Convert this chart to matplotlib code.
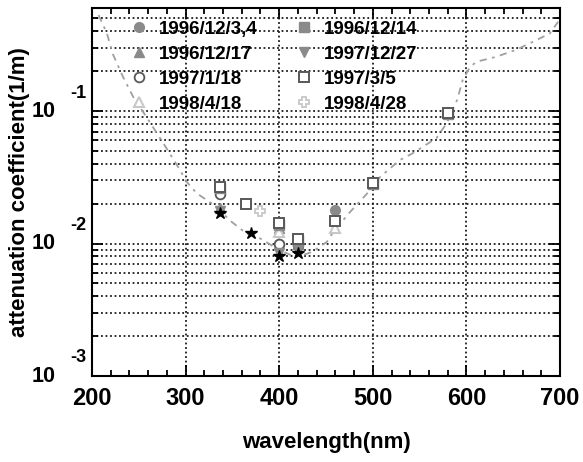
import numpy as np
import matplotlib
matplotlib.use("Agg")
import matplotlib.pyplot as plt
from matplotlib.ticker import FixedLocator, LogLocator, NullFormatter, MultipleLocator

plt.rcParams["font.family"] = ["Liberation Sans", "DejaVu Sans"]
plt.rcParams["font.weight"] = "bold"

# model curve (dash-dot)
curve_wl = [207, 216, 222, 233, 244, 258, 276, 294, 301, 312, 333, 347, 365, 380,
            397, 412, 422, 436, 451, 458, 476, 494, 508, 529, 543, 568, 579, 590,
            596, 604, 611, 632, 654, 675, 689, 698]
curve_att = [0.531, 0.385, 0.272, 0.182, 0.128, 0.0906, 0.0575, 0.0359, 0.0293,
             0.0239, 0.0190, 0.0150, 0.0119, 0.0109, 0.0092, 0.0082, 0.0080,
             0.0087, 0.0103, 0.0123, 0.0174, 0.0239, 0.0319, 0.0427, 0.0482,
             0.0625, 0.0811, 0.121, 0.171, 0.216, 0.236, 0.257, 0.292, 0.344,
             0.385, 0.472]

# measured points per date
wl_961203 = [337, 400, 420, 460]
att_961203 = [0.024, 0.0099, 0.0102, 0.0179]
wl_961214 = [337, 400, 420, 500, 580]
att_961214 = [0.0262, 0.0138, 0.0106, 0.0282, 0.095]
wl_961217 = [337, 400, 420]
att_961217 = [0.0185, 0.0130, 0.0099]
wl_971227 = [337, 400, 420, 500]
att_971227 = [0.0176, 0.0085, 0.0090, 0.0280]
wl_970118 = [337, 400, 420]
att_970118 = [0.0236, 0.0100, 0.0098]
wl_970305 = [337, 365, 400, 420, 460, 500, 580]
att_970305 = [0.0268, 0.0198, 0.0143, 0.0108, 0.01485, 0.0284, 0.096]
wl_980418 = [400, 460]
att_980418 = [0.0123, 0.0130]
wl_980428 = [380]
att_980428 = [0.0177]
wl_star = [337, 370, 400, 420]
att_star = [0.0169, 0.0121, 0.00805, 0.00843]

ytick_vals = [1e-3, 1e-2, 1e-1]
ytick_exps = ["-3", "-2", "-1"]

FILL = "#8a8a8a"
DARK = "#585858"
PALE = "#c8c8c8"

fig = plt.figure(figsize=(5.83, 4.62), dpi=100)
ax = fig.add_axes([92 / 583, 1 - 376 / 462, 468 / 583, 368 / 462])

ax.plot(curve_wl, curve_att, color="#a0a0a0", lw=1.3,
        dashes=(4, 3, 1.5, 3), zorder=2)

ms = 7
series = [
    (wl_961203, att_961203, "1996/12/3,4", dict(marker="o", mfc=FILL, mec=FILL)),
    (wl_961217, att_961217, "1996/12/17", dict(marker="^", mfc=FILL, mec=FILL)),
    (wl_970118, att_970118, "1997/1/18", dict(marker="o", mfc="white", mec=DARK, mew=1.3)),
    (wl_980418, att_980418, "1998/4/18", dict(marker="^", mfc="white", mec=PALE, mew=1.5)),
    (wl_961214, att_961214, "1996/12/14", dict(marker="s", mfc=FILL, mec=FILL)),
    (wl_971227, att_971227, "1997/12/27", dict(marker="v", mfc=FILL, mec=FILL)),
    (wl_970305, att_970305, "1997/3/5", dict(marker="s", mfc="white", mec=DARK, mew=1.4)),
    (wl_980428, att_980428, "1998/4/28", dict(marker="P", mfc="white", mec=PALE, mew=1.3)),
]
for wl, att, lab, st in series:
    ax.plot(wl, att, ls="none", ms=ms, label=lab, zorder=4, **st)

ax.plot(wl_star, att_star, ls="none", marker="*", ms=9, color="black", zorder=5)

ax.set_yscale("log")
ax.set_xlim(200, 700)
ax.set_ylim(1e-3, 0.6)

ax.xaxis.set_major_locator(MultipleLocator(100))
ax.xaxis.set_minor_locator(MultipleLocator(20))
ax.yaxis.set_major_locator(FixedLocator(ytick_vals))
ax.yaxis.set_minor_locator(LogLocator(base=10, subs=np.arange(2, 10)))
ax.yaxis.set_minor_formatter(NullFormatter())
ax.set_yticklabels([])

ax.tick_params(which="both", direction="in", top=True, right=True, width=1.3)
ax.tick_params(which="major", length=8)
ax.tick_params(which="minor", length=4)
ax.tick_params(axis="x", which="major", labelsize=17, pad=8)
for lbl in ax.get_xticklabels():
    lbl.set_fontweight("bold")

gkw = dict(color="#1a1a1a", lw=1.3, dashes=(1, 1.5))
ax.grid(True, which="major", axis="x", **gkw)
ax.grid(True, which="both", axis="y", **gkw)
ax.set_axisbelow(True)

for sp in ax.spines.values():
    sp.set_linewidth(1.5)

# powers of ten drawn as base plus raised exponent
for val, ex in zip(ytick_vals, ytick_exps):
    ax.annotate("10", xy=(0, val), xycoords=("axes fraction", "data"),
                xytext=(-26.5, 0), textcoords="offset points",
                ha="right", va="center", fontsize=15.5, fontweight="bold")
    ax.annotate(ex, xy=(0, val), xycoords=("axes fraction", "data"),
                xytext=(-15.5, 13), textcoords="offset points",
                ha="left", va="center", fontsize=13, fontweight="bold")

ax.set_xlabel("wavelength(nm)", fontsize=16, fontweight="bold", labelpad=16)
ax.set_ylabel("attenuation coefficient(1/m)", fontsize=16, fontweight="bold",
              labelpad=0)
ax.yaxis.set_label_coords(-62 / 468, 0.5)

ax.legend(loc="upper left", bbox_to_anchor=(0.08, 0.965), ncol=2,
          frameon=False, handlelength=1.0, handletextpad=0.55,
          columnspacing=2.0, labelspacing=0.42, borderpad=0, borderaxespad=0,
          prop={"weight": "bold", "size": 13.5})

fig.savefig("out.png", dpi=100)
